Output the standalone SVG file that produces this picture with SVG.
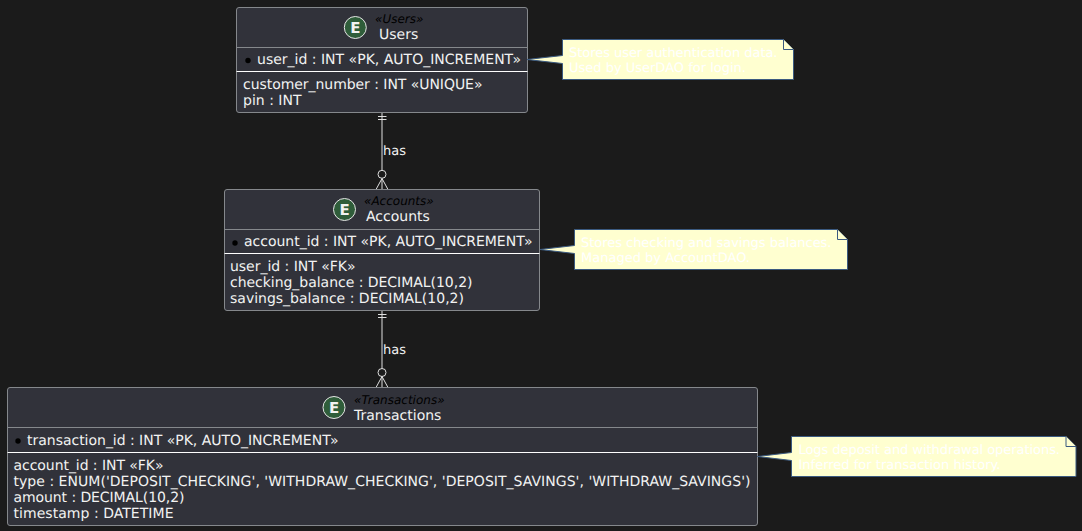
<svg xmlns="http://www.w3.org/2000/svg" width="1082" height="531" viewBox="0 0 1082 531">
<style>
text{font-family:"DejaVu Sans",sans-serif;fill:#f2f2f2;text-rendering:geometricPrecision}
.a{font-size:14px}
.s{font-size:12px;font-style:italic;fill:#000}
.l{font-size:13px}
.n{font-size:13px;fill:#fff}
.box{fill:#31323a;stroke:#85888c;stroke-width:1}
.d1{stroke:#85888c;stroke-width:1}
.d2{stroke:#fff;stroke-width:1}
.c{fill:#2f5d3a;stroke:#e6e6e6;stroke-width:1}
.e{font-size:15px;font-weight:bold}
.note{fill:#ffffd0;stroke:#3b5a80;stroke-width:1}
.line{fill:none;stroke:#e0e0e0;stroke-width:1}
</style>
<rect width="1082" height="531" fill="#1b1b1b"/>
<g id="connectors">
<path class="line" d="M382 112.500V170M378 116.500H386.500M378 119.500H386.500M382 178.500L376 189.500M382 178.500L388 189.500M382 178.500V189.500"/>
<circle class="line" cx="382" cy="174.300" r="4"/>
<text class="l" x="383" y="155">has</text>
<path class="line" d="M382 310.500V368.500M378 314.500H386.500M378 317.500H386.500M382 376.500L376 387.500M382 376.500L388 387.500M382 376.500V387.500"/>
<circle class="line" cx="382" cy="372.500" r="4"/>
<text class="l" x="383" y="354">has</text>
</g>
<g id="Users">
<rect class="box" x="236.500" y="7.500" width="291" height="105" rx="2.500"/>
<path class="d1" d="M236.500 47.500H527.500"/><path class="d2" d="M236.500 71.500H527.500"/>
<circle class="c" cx="355.300" cy="27.500" r="11"/>
<text class="e" x="355.300" y="33" text-anchor="middle">E</text>
<text class="s" x="375" y="23">«Users»</text>
<text class="a" x="379" y="39">Users</text>
<circle cx="248" cy="60.500" r="2.700" fill="#000"/>
<text class="a" x="257" y="64" textLength="264">user_id : INT «PK, AUTO_INCREMENT»</text>
<text class="a" x="243" y="89" textLength="239.500">customer_number : INT «UNIQUE»</text>
<text class="a" x="243" y="105" textLength="58.500">pin : INT</text>
</g>
<g id="Accounts">
<rect class="box" x="224.500" y="189.500" width="315" height="121" rx="2.500"/>
<path class="d1" d="M224.500 229.500H539.500"/><path class="d2" d="M224.500 253.500H539.500"/>
<circle class="c" cx="344.500" cy="209.500" r="11"/>
<text class="e" x="344.500" y="215" text-anchor="middle">E</text>
<text class="s" x="364" y="205">«Accounts»</text>
<text class="a" x="366" y="221">Accounts</text>
<circle cx="235" cy="243" r="2.700" fill="#000"/>
<text class="a" x="244" y="246" textLength="288.500">account_id : INT «PK, AUTO_INCREMENT»</text>
<text class="a" x="230" y="271" textLength="125.500">user_id : INT «FK»</text>
<text class="a" x="230" y="287" textLength="242.500">checking_balance : DECIMAL(10,2)</text>
<text class="a" x="230" y="303" textLength="234">savings_balance : DECIMAL(10,2)</text>
</g>
<g id="Transactions">
<rect class="box" x="7.500" y="387.500" width="750" height="138" rx="2.500"/>
<path class="d1" d="M7.500 427.500H757.500"/><path class="d2" d="M7.500 452.500H757.500"/>
<circle class="c" cx="334" cy="407.500" r="11"/>
<text class="e" x="334" y="413" text-anchor="middle">E</text>
<text class="s" x="354" y="403.500">«Transactions»</text>
<text class="a" x="354" y="419.500">Transactions</text>
<circle cx="18" cy="441" r="2.700" fill="#000"/>
<text class="a" x="27" y="445" textLength="311.500">transaction_id : INT «PK, AUTO_INCREMENT»</text>
<text class="a" x="13.500" y="469.500" textLength="150">account_id : INT «FK»</text>
<text class="a" x="13.500" y="485.500" textLength="737">type : ENUM('DEPOSIT_CHECKING', 'WITHDRAW_CHECKING', 'DEPOSIT_SAVINGS', 'WITHDRAW_SAVINGS')</text>
<text class="a" x="13.500" y="501.500" textLength="171">amount : DECIMAL(10,2)</text>
<text class="a" x="13.500" y="517.500" textLength="160">timestamp : DATETIME</text>
</g>
<g id="note1">
<path class="note" d="M562.500 39.500H783.500L793.500 49.500V79.500H562.500V63.500L527 59.500L562.500 55.500Z"/>
<path class="note" d="M783.500 39.500V49.500H793.500"/>
<text class="n" x="569" y="57" textLength="208.500">Stores user authentication data.</text>
<text class="n" x="569" y="72" textLength="177">Used by UserDAO for login.</text>
</g>
<g id="note2">
<path class="note" d="M574.500 229.500H837.500L847.500 239.500V269.500H574.500V253.500L540 249.500L574.500 245.500Z"/>
<path class="note" d="M837.500 229.500V239.500H847.500"/>
<text class="n" x="581" y="247" textLength="250.500">Stores checking and savings balances.</text>
<text class="n" x="581" y="262" textLength="169">Managed by AccountDAO.</text>
</g>
<g id="note3">
<path class="note" d="M791.500 436.500H1066L1076 446.500V476.500H791.500V460.500L757.500 456.500L791.500 452.500Z"/>
<path class="note" d="M1066 436.500V446.500H1076"/>
<text class="n" x="798.500" y="454" textLength="261.500">Logs deposit and withdrawal operations.</text>
<text class="n" x="798.500" y="469" textLength="202">Inferred for transaction history.</text>
</g>
</svg>
